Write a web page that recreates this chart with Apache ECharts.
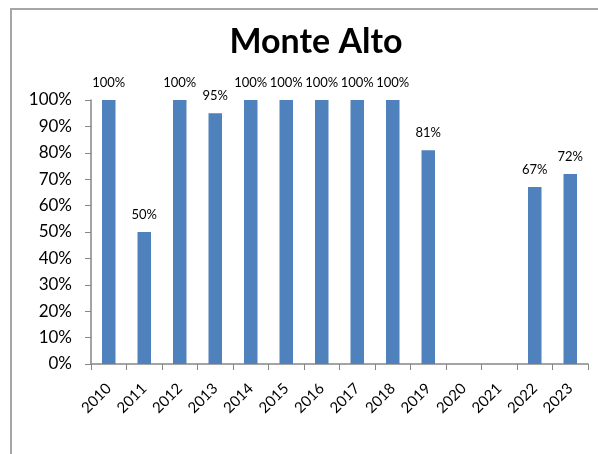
<!DOCTYPE html>
<html>
<head>
<meta charset="utf-8">
<script src="https://cdn.jsdelivr.net/npm/echarts@6/dist/echarts.min.js"></script>
<style>
  html, body { margin: 0; padding: 0; background: #fff; }
  #frame {
    position: absolute; left: 10px; top: 8px; width: 600px; height: 460px;
    border-left: 2px solid #a6a6a6; border-top: 2px solid #a6a6a6;
  }
  #chart { position: absolute; left: 0; top: 0; width: 598px; height: 454px; }
</style>
</head>
<body>
<div id="frame"></div>
<div id="chart"></div>
<script>
// datos del gráfico
const years = ['2010', '2011', '2012', '2013', '2014', '2015', '2016', '2017', '2018', '2019', '2020', '2021', '2022', '2023'];
const values = [100, 50, 100, 95, 100, 100, 100, 100, 100, 81, null, null, 67, 72];

const myChart = echarts.init(document.getElementById('chart'));
const axisColor = '#868686';
const font = 'Lato, "Open Sans", sans-serif';

myChart.setOption({
  animation: false,
  title: {
    text: 'Monte Alto',
    left: 311,
    textAlign: 'center',
    top: 20,
    textStyle: { fontFamily: font, fontSize: 34, fontWeight: 'bold', color: '#000' }
  },
  grid: { left: 91, right: 10, top: 100, bottom: 90 },
  xAxis: {
    type: 'category',
    data: years,
    axisLine: { lineStyle: { color: axisColor, width: 1.5 } },
    axisTick: { show: true, length: 6, lineStyle: { color: axisColor } },
    axisLabel: { rotate: 45, interval: 0, color: '#000', fontFamily: font, fontSize: 15, margin: 22 }
  },
  yAxis: {
    type: 'value',
    min: 0, max: 100, interval: 10,
    splitLine: { show: false },
    axisLine: { show: true, lineStyle: { color: axisColor, width: 1.5 } },
    axisTick: { show: true, length: 6, lineStyle: { color: axisColor } },
    axisLabel: { formatter: '{value}%', color: '#000', fontFamily: font, fontSize: 17, margin: 19 }
  },
  series: [{
    type: 'bar',
    data: values,
    barWidth: '38%',
    itemStyle: { color: '#4F81BD' },
    label: {
      show: true,
      position: 'top',
      distance: 11,
      formatter: p => p.value + '%',
      color: '#000',
      fontFamily: font,
      fontSize: 13
    }
  }]
});
</script>
</body>
</html>
